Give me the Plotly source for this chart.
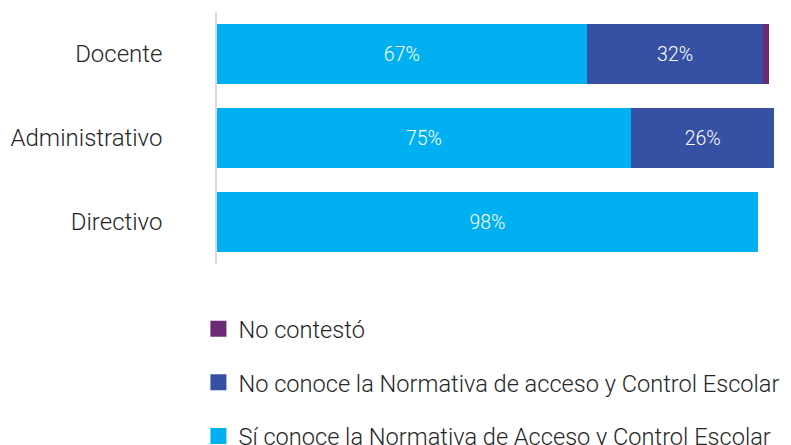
import plotly.graph_objects as go

categories = ["Docente", "Administrativo", "Directivo"]
si_conoce = [67, 75, 98]
no_conoce = [32, 26, 0]
no_contesto = [1, 0, 0]

series_names = [
    "Sí conoce la Normativa de Acceso y Control Escolar",
    "No conoce la Normativa de acceso y Control Escolar",
    "No contestó",
]
colors = ["#00B0F0", "#3651A3", "#6B2A73"]
series_values = [si_conoce, no_conoce, no_contesto]

font_family = "Roboto"

fig = go.Figure()
for name, vals, col in zip(series_names, series_values, colors):
    labels = [f"{v}%" if v >= 5 else "" for v in vals]
    fig.add_trace(go.Bar(
        y=categories, x=vals, orientation="h", name=name,
        marker=dict(color=col, line=dict(width=0)),
        text=labels, textposition="inside", insidetextanchor="middle",
        textfont=dict(color="white", size=19.5, family=font_family, weight=300),
        showlegend=False, hoverinfo="skip",
    ))

# legend entries (square swatches), in reference order
for i, (name, col) in enumerate(zip(series_names, colors)):
    fig.add_trace(go.Scatter(
        x=[None], y=[None], mode="markers", name=name,
        marker=dict(symbol="square", size=17, color=col),
        legendgroup=f"g{i}", legendrank=3 - i,
    ))

fig.update_layout(
    width=783, height=437,
    barmode="stack", bargap=0.286,
    margin=dict(l=209, r=11, t=4, b=181, autoexpand=False),
    paper_bgcolor="white", plot_bgcolor="white",
    font=dict(family=font_family, size=24, color="#262626", weight=300),
    legend=dict(
        orientation="v", x=-0.033, xanchor="left", y=-0.17, yanchor="top",
        tracegroupgap=20, font=dict(size=23.6, color="#262626", weight=300),
        itemsizing="trace",
    ),
    xaxis=dict(range=[0, 102], visible=False, fixedrange=True),
    yaxis=dict(
        categoryorder="array", categoryarray=categories[::-1],
        showline=True, linecolor="#D9D9D9", linewidth=1.5,
        showgrid=False, zeroline=False, ticks="",
        ticklabelstandoff=48,
        tickfont=dict(size=24, color="#262626", weight=300),
    ),
)

fig.write_html("out.html")
